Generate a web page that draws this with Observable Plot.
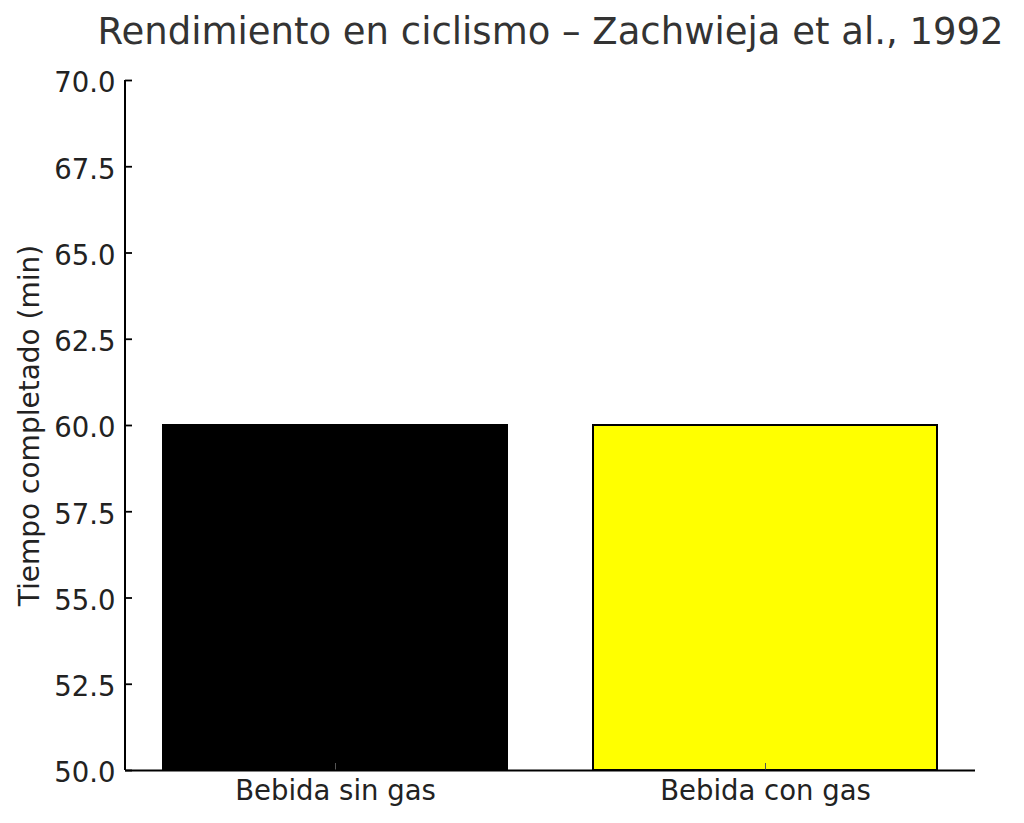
<!DOCTYPE html>
<html>
<head>
<meta charset="utf-8">
<script src="https://cdn.jsdelivr.net/npm/d3@7"></script>
<script src="https://cdn.jsdelivr.net/npm/@observablehq/plot@0.6"></script>
<style>
  body { margin: 0; background: #fff; }
  svg { display: block; font-family: "DejaVu Sans", sans-serif; }
</style>
</head>
<body>
<div id="chart"></div>
<script>
const categories = ["Bebida sin gas", "Bebida con gas"];
const values = [60, 60];
const colors = ["#000000", "#ffff00"];
const yTicks = [50, 52.5, 55, 57.5, 60, 62.5, 65, 67.5, 70];
const titleText = "Rendimiento en ciclismo – Zachwieja et al., 1992";
const yLabel = "Tiempo completado (min)";

const data = categories.map((c, i) => ({cat: c, value: values[i], color: colors[i]}));

const W = 1024, H = 823;
const mL = 125, mR = 49, mT = 80, mB = 53;
const plotW = W - mL - mR, plotH = H - mT - mB;
const fs = 27.5;

const chart = Plot.plot({
  width: W,
  height: H,
  marginLeft: mL,
  marginRight: mR,
  marginTop: mT,
  marginBottom: mB,
  style: {fontFamily: "DejaVu Sans, sans-serif", background: "#fff"},
  x: {domain: categories, paddingInner: 0.2, paddingOuter: 0.088, label: null},
  y: {domain: [50, 70], label: null},
  marks: [
    Plot.barY(data, {x: "cat", y1: 50, y2: "value", fill: "color", stroke: "#000", strokeWidth: 2}),
    Plot.tickX(categories, {x: d => d, insetTop: plotH - 7, stroke: "#555", strokeWidth: 1}),
    Plot.tickY(yTicks, {y: d => d, insetRight: plotW - 7, stroke: "#000", strokeWidth: 1.8}),
    Plot.ruleY([50], {stroke: "#000", strokeWidth: 2}),
    Plot.barY([0], {y1: 50, y2: 70, insetLeft: -1, insetRight: plotW - 1, fill: "#000"}),
    Plot.axisY({ticks: yTicks, tickFormat: d => d.toFixed(1), tickSize: 0, tickPadding: 10, fontSize: fs, fill: "#222", label: null, dy: 3}),
    Plot.axisX({tickSize: 0, tickPadding: 10, fontSize: fs, fill: "#222", label: null}),
    Plot.text([titleText], {frameAnchor: "top", lineAnchor: "top", dy: -63, fontSize: 37, fill: "#333"}),
    Plot.text([yLabel], {frameAnchor: "left", textAnchor: "middle", dx: -95, rotate: -90, fontSize: 28, fill: "#222"})
  ]
});
document.getElementById("chart").appendChild(chart);
</script>
</body>
</html>
